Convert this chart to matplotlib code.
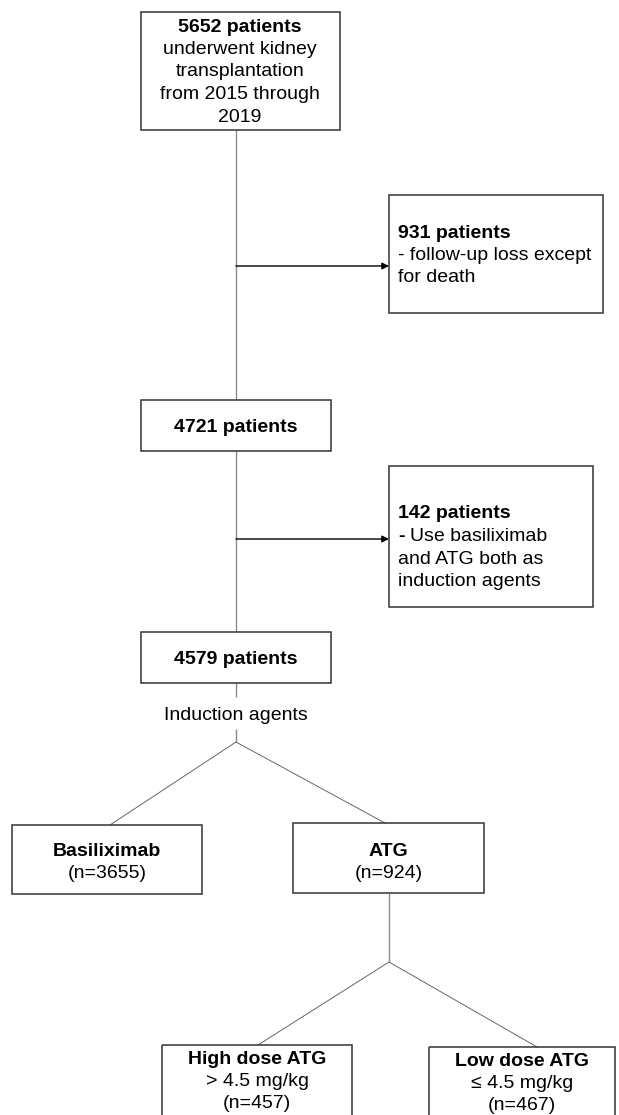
import matplotlib
matplotlib.use("Agg")
import matplotlib.pyplot as plt
from matplotlib.patches import Rectangle

plt.rcParams['font.family'] = ['Liberation Sans', 'DejaVu Sans']

# flowchart content
total_n = 5652
lost_n = 931
after_loss_n = 4721
both_agents_n = 142
final_n = 4579
group_names = ["Basiliximab", "ATG"]
group_n = [3655, 924]
atg_names = ["High dose ATG", "Low dose ATG"]
atg_rules = ["> 4.5 mg/kg", "≤ 4.5 mg/kg"]
atg_n = [457, 467]

FS = 14
LINE = 22.5
DY = 2  # nudge text down a bit to match the reference baseline
EDGE = "#333333"

fig = plt.figure(figsize=(6.19, 11.15), dpi=100)
ax = fig.add_axes([0, 0, 1, 1])
ax.set_xlim(0, 619)
ax.set_ylim(1115, 0)
ax.axis("off")


def box(x0, y0, x1, y1):
    ax.add_patch(Rectangle((x0, y0), x1 - x0, y1 - y0, fill=False,
                           edgecolor=EDGE, lw=1.1, zorder=2))


def lines_centered(cx, y0, rows):
    # rows: list of (text, bold)
    for i, (t, b) in enumerate(rows):
        ax.text(cx, y0 + DY + i * LINE, t, ha="center", va="center", fontsize=FS,
                fontweight="bold" if b else "normal", color="black")


def lines_left(x, y0, rows):
    for i, (t, b) in enumerate(rows):
        ax.text(x, y0 + DY + i * LINE, t, ha="left", va="center", fontsize=FS,
                fontweight="bold" if b else "normal", color="black")


def seg(x0, y0, x1, y1, color="#8c8c8c", lw=1.0):
    ax.plot([x0, x1], [y0, y1], color=color, lw=lw, solid_capstyle="butt", zorder=1)


def arrow(x0, x1, y):
    ax.annotate("", xy=(x1, y), xytext=(x0, y),
                arrowprops=dict(arrowstyle="-|>", color="black", lw=1.0,
                                mutation_scale=10, shrinkA=0, shrinkB=0))


cx = 236

# main column
box(141, 12, 340, 130)
lines_centered(240, 25, [(f"{total_n} patients", True), ("underwent kidney", False),
                         ("transplantation", False), ("from 2015 through", False),
                         ("2019", False)])
seg(cx, 130, cx, 400)

box(389, 195, 603, 313)
lines_left(398, 231, [(f"{lost_n} patients", True), ("- follow-up loss except", False),
                      ("for death", False)])
arrow(cx, 389, 266)

box(141, 400, 331, 451)
lines_centered(cx, 426, [(f"{after_loss_n} patients", True)])
seg(cx, 451, cx, 632)

box(389, 466, 593, 607)
lines_left(398, 512, [(f"{both_agents_n} patients", True)])
ax.text(398, 512 + DY + LINE, "-", ha="left", va="center", fontsize=FS, fontweight="bold")
lines_left(410, 512 + LINE, [("Use basiliximab", False)])
lines_left(398, 512 + 2 * LINE, [("and ATG both as", False), ("induction agents", False)])
arrow(cx, 389, 539)

box(141, 632, 331, 683)
lines_centered(cx, 658, [(f"{final_n} patients", True)])
seg(cx, 683, cx, 697)
ax.text(cx, 713 + DY, "Induction agents", ha="center", va="center", fontsize=FS)
seg(cx, 729, cx, 742)

# induction groups
grp_boxes = [(12, 825, 202, 894), (293, 823, 484, 893)]
grp_tops = [(110, 825), (385, 823)]
for (x0, y0, x1, y1), (tx, ty), name, n in zip(grp_boxes, grp_tops, group_names, group_n):
    seg(cx, 742, tx, ty, color="#666666", lw=0.7)
    box(x0, y0, x1, y1)
    lines_centered((x0 + x1) / 2, 849, [(name, True), (f"(n={n})", False)])

# ATG dose split
ax_x = 389
seg(ax_x, 893, ax_x, 962)
dose_boxes = [(162, 1045, 352, 1125), (429, 1047, 615, 1125)]
dose_tops = [(258, 1045), (537, 1047)]
for (x0, y0, x1, y1), (tx, ty), name, rule, n in zip(dose_boxes, dose_tops, atg_names, atg_rules, atg_n):
    seg(ax_x, 962, tx, ty, color="#666666", lw=0.7)
    box(x0, y0, x1, y1)
    lines_centered((x0 + x1) / 2, y0 + 12, [(name, True), (rule, False), (f"(n={n})", False)])

fig.savefig("out.png", dpi=100)
